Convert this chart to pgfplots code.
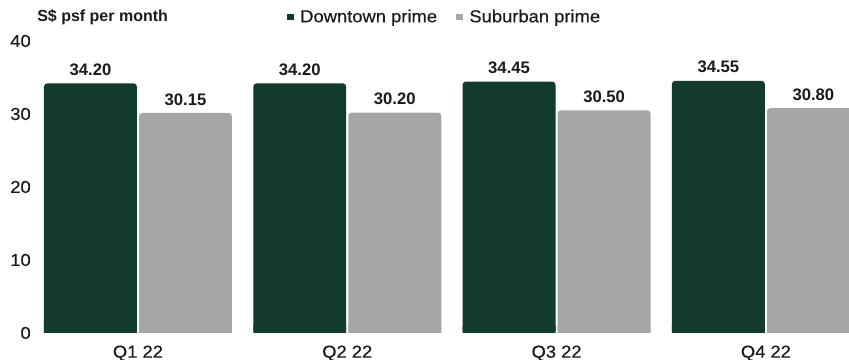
\documentclass[border=0pt]{standalone}
\usepackage{pgfplots}
\pgfplotsset{compat=1.18}
\usepackage{fontspec}
\setmainfont{Liberation Sans}
\newfontfamily\widefont[FakeStretch=1.06, FakeBold=0.3]{Liberation Sans}
\definecolor{dkgreen}{HTML}{133A2F}
\definecolor{mgrey}{HTML}{A6A6A6}
\definecolor{txt}{HTML}{1A1A1A}
\begin{document}
\begin{tikzpicture}
\begin{axis}[
  ybar,
  scale only axis,
  width=606.75pt, height=219pt,
  xmin=-0.468, xmax=3.397,
  ymin=0, ymax=40,
  ytick={0,10,20,30,40},
  xtick={0,1,2,3},
  xticklabels={Q1 22,Q2 22,Q3 22,Q4 22},
  axis line style={draw=none},
  major tick length=0pt,
  tick style={draw=none},
  ticklabel style={font=\widefont\fontsize{13}{15}\selectfont, text=txt},
  yticklabel style={anchor=east, inner sep=0pt, xshift=-6.75pt},
  xticklabel style={anchor=base, inner sep=0pt, yshift=-18.5pt},
  /pgf/number format/assume math mode=true,
  bar width=0.444,
  clip=true,
  legend columns=2,
  legend style={at={(0.3053,1)}, anchor=west, yshift=18pt, draw=none, fill=none, inner sep=0pt,
    font=\widefont\fontsize{13}{15}\selectfont, text=txt,
    nodes={inner sep=0pt},
    /tikz/every even column/.append style={column sep=14.5pt},
    /tikz/every odd column/.append style={column sep=4.5pt}},
  legend image code/.code={\fill[#1, draw=none, rounded corners=0pt] (0pt,-2.6pt) rectangle (5.25pt,2.6pt);},
  vlabels/.style={
    nodes near coords={\pgfmathprintnumber[fixed, fixed zerofill, precision=2]{\pgfplotspointmeta}},
    every node near coord/.append style={font=\bfseries\fontsize{12.5}{14}\selectfont, text=txt, anchor=south, inner sep=0pt, yshift=5.5pt}},
]
\addplot[fill=dkgreen, draw=none, rounded corners=2.5pt, bar shift=-0.227, vlabels]
  coordinates {(0,34.20) (1,34.20) (2,34.45) (3,34.55)};
\addlegendentry{Downtown prime}
\addplot[fill=mgrey, draw=none, rounded corners=2.5pt, bar shift=0.227, vlabels]
  coordinates {(0,30.15) (1,30.20) (2,30.50) (3,30.80)};
\addlegendentry{Suburban prime}
% square-cornered bases so that only the tops are rounded
\addplot[forget plot, fill=dkgreen, draw=none, bar shift=-0.227]
  coordinates {(0,1) (1,1) (2,1) (3,1)};
\addplot[forget plot, fill=mgrey, draw=none, bar shift=0.227]
  coordinates {(0,1) (1,1) (2,1) (3,1)};
\end{axis}
\node[anchor=west, inner sep=0pt, font=\bfseries\fontsize{12}{14}\selectfont, text=txt]
  at ([xshift=-2.25pt, yshift=18pt]current axis.north west) {S\$ psf per month};
\pgfresetboundingbox
\useasboundingbox ([xshift=-30pt, yshift=-20.25pt]current axis.south west) rectangle ([yshift=30.75pt]current axis.north east);
\end{tikzpicture}
\end{document}
